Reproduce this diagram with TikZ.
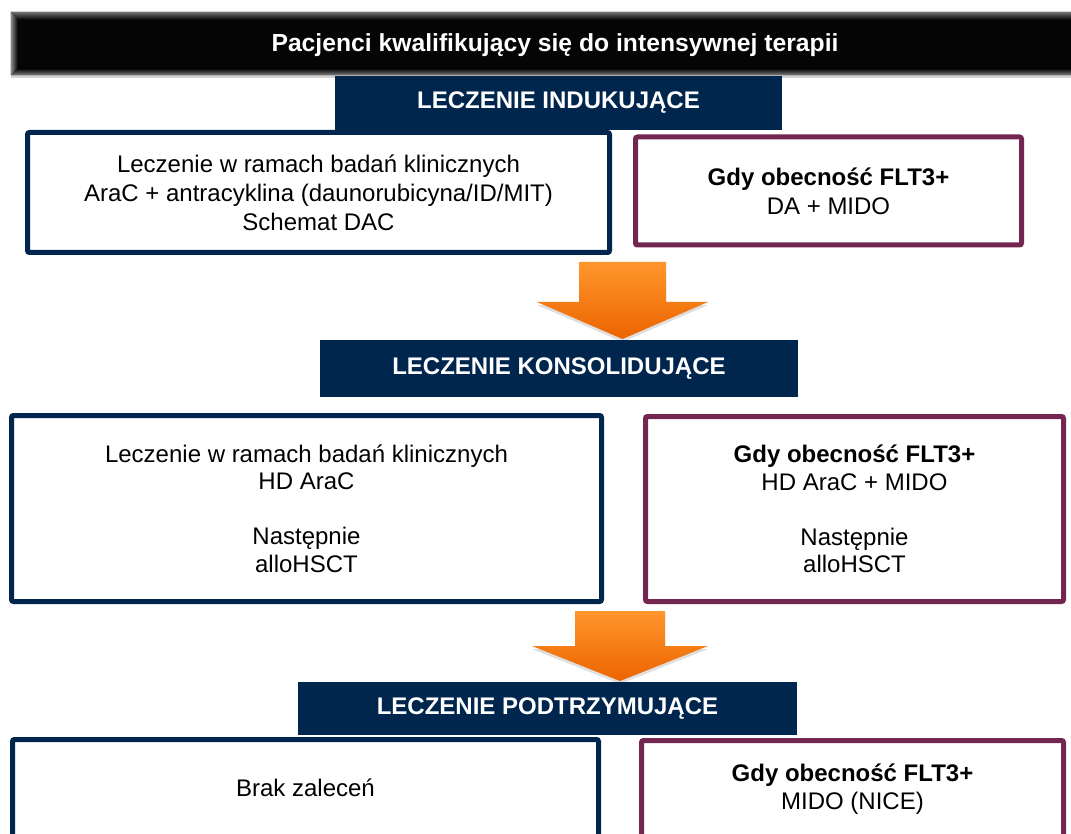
\documentclass[tikz,border=0pt]{standalone}
\usepackage{fontspec}
\setmainfont{Liberation Sans}
\usetikzlibrary{shadows}
\definecolor{navy}{RGB}{0,38,77}
\definecolor{maroon}{RGB}{115,39,80}
\definecolor{orangeL}{RGB}{255,150,45}
\definecolor{orangeD}{RGB}{236,100,0}
\begin{document}
\begin{tikzpicture}[x=1pt,y=-1pt,
  box/.style={draw, line width=5pt, rounded corners=2pt, fill=white, align=center, inner sep=0pt, font=\fontsize{24}{29}\selectfont},
  navybox/.style={box, draw=navy},
  maroonbox/.style={box, draw=maroon},
  bar/.style={fill=navy, text=white, font=\bfseries\fontsize{24}{29}\selectfont, inner sep=0pt},
  bigarrow/.style={top color=orangeL, bottom color=orangeD, drop shadow={opacity=0.25, shadow xshift=0pt, shadow yshift=-3pt}},
]
\useasboundingbox (0,0) rectangle (1071,834);
\clip (0,0) rectangle (1071,834);

% header
\node[fill=black!98, minimum width=1088pt, minimum height=63pt, inner sep=0pt,
  drop shadow={opacity=0.35, shadow xshift=0pt, shadow yshift=-3pt}] (header) at (555,43.5) {};
\fill[top color=black!55, bottom color=black] (header.north west) -- (header.north east) -- ([xshift=-7pt,yshift=-8pt]header.north east) -- ([xshift=7pt,yshift=-8pt]header.north west) -- cycle;
\fill[top color=black, bottom color=black!50] (header.south west) -- (header.south east) -- ([xshift=-7pt,yshift=7pt]header.south east) -- ([xshift=7pt,yshift=7pt]header.south west) -- cycle;
\fill[left color=black!45, right color=black] (header.north west) -- ([xshift=7pt,yshift=-8pt]header.north west) -- ([xshift=7pt,yshift=7pt]header.south west) -- (header.south west) -- cycle;
\node[text=white, font=\bfseries\fontsize{24.7}{29}\selectfont, inner sep=0pt] (title) at (555,45) {Pacjenci kwalifikujący się do intensywnej terapii};

% stage 1
\node[bar, minimum width=447pt, minimum height=54pt] (ind) at (558.5,103) {LECZENIE INDUKUJĄCE};
\node[navybox, minimum width=582pt, minimum height=120pt] (b1l) at (318.5,192.5)
  {Leczenie w ramach badań klinicznych\\AraC + antracyklina (daunorubicyna/ID/MIT)\\Schemat DAC};
\node[maroonbox, minimum width=386pt, minimum height=108pt] (b1r) at (828.5,191)
  {\textbf{Gdy obecność FLT3+}\\DA + MIDO};

% arrow 1
\coordinate (arr1) at (622.5,262);
\begin{scope}[shift={(arr1)}]
  \path[bigarrow] (-43.5,0) -- (43.5,0) -- (43.5,40) -- (85.5,40) -- (0,77) -- (-85.5,40) -- (-43.5,40) -- cycle;
\end{scope}

% stage 2
\node[bar, minimum width=478pt, minimum height=57pt] (kons) at (559,368.5) {LECZENIE KONSOLIDUJĄCE};
\node[navybox, minimum width=590pt, minimum height=186pt, font=\fontsize{24}{27.5}\selectfont] (b2l) at (306.5,508.5)
  {Leczenie w ramach badań klinicznych\\HD AraC\\[27.5pt]Następnie\\alloHSCT};
\node[maroonbox, minimum width=418pt, minimum height=185pt, font=\fontsize{24}{27.5}\selectfont] (b2r) at (854.5,509)
  {\textbf{Gdy obecność FLT3+}\\HD AraC + MIDO\\[27.5pt]Następnie\\alloHSCT};

% arrow 2
\coordinate (arr2) at (620,611);
\begin{scope}[shift={(arr2)}]
  \path[bigarrow] (-45,0) -- (45,0) -- (45,35) -- (88,35) -- (0,70) -- (-88,35) -- (-45,35) -- cycle;
\end{scope}

% stage 3
\node[bar, minimum width=499pt, minimum height=53pt] (podt) at (547.5,708.5) {LECZENIE PODTRZYMUJĄCE};
\node[navybox, minimum width=586pt, minimum height=97pt] (b3l) at (305.5,788) {Brak zaleceń};
\node[maroonbox, minimum width=422pt, minimum height=97pt, font=\fontsize{24}{28}\selectfont] (b3r) at (852.5,789)
  {\textbf{Gdy obecność FLT3+}\\MIDO (NICE)};
\end{tikzpicture}
\end{document}
